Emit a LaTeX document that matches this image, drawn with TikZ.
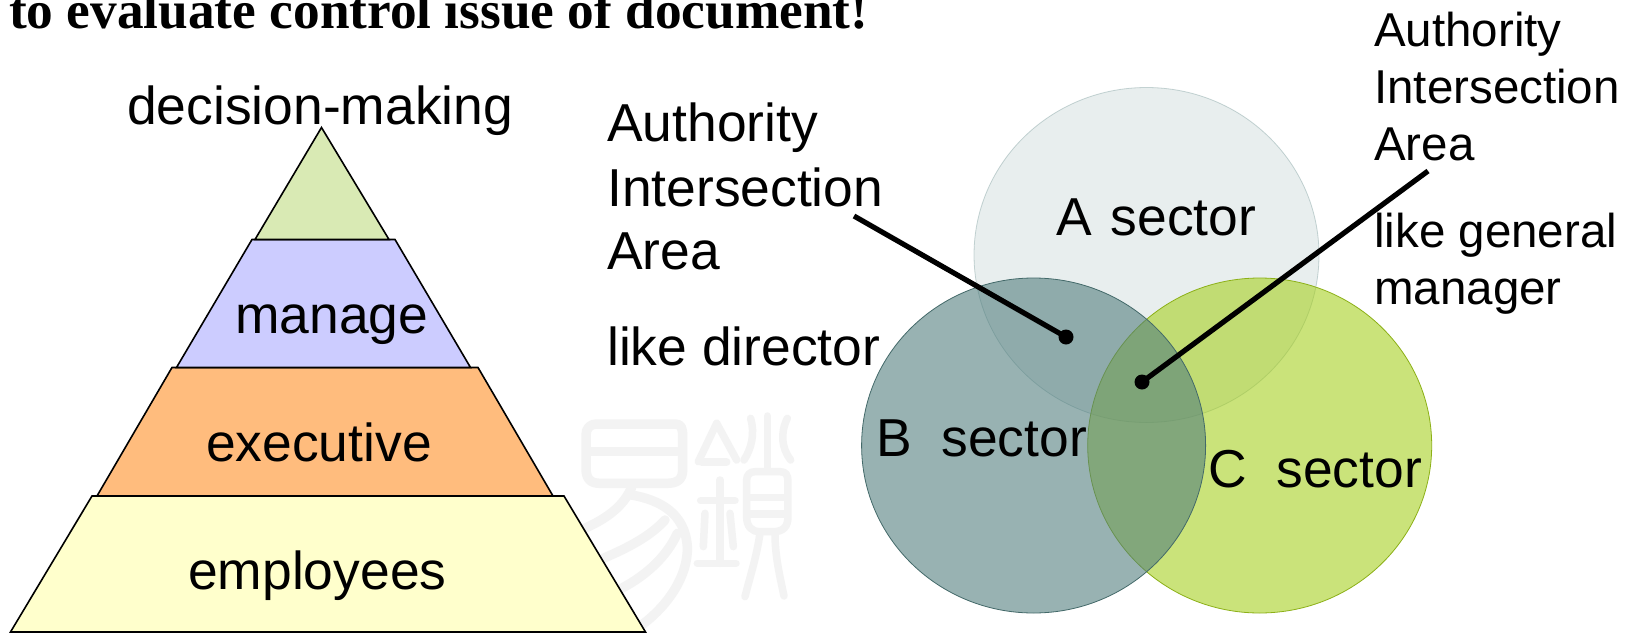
\documentclass[tikz,border=0pt]{standalone}
\usepackage{fontspec}
\setmainfont{Liberation Sans}
\newfontfamily\titlefont{Liberation Serif}
\definecolor{tierA}{HTML}{D9EAB4}
\definecolor{tierB}{HTML}{CCCCFF}
\definecolor{tierC}{HTML}{FFBC7D}
\definecolor{tierD}{HTML}{FFFFCC}
\definecolor{teal}{RGB}{79,124,124}
\definecolor{lime}{RGB}{165,207,27}
\definecolor{wm}{HTML}{F3F3F3}
\tikzset{
  label big/.style={inner sep=0pt,anchor=base west,font=\fontsize{53.4}{60}\selectfont},
  label small/.style={inner sep=0pt,anchor=base west,font=\fontsize{47.5}{54}\selectfont},
  tier/.style={draw=black,line width=1.6pt,line join=miter},
  pointer/.style={line width=5.2pt,draw=black},
  dot/.style={circle,fill=black,inner sep=0pt,minimum size=15pt},
  wmstroke/.style={draw=wm,line width=7.5pt,line cap=round,line join=round},
  wmthick/.style={wmstroke,line width=9.5pt}
}
\begin{document}
\begin{tikzpicture}[x=1pt,y=-1pt]
\useasboundingbox (0,0) rectangle (1635,632);
\clip (0,0) rectangle (1635,632);
\fill[white] (0,0) rectangle (1635,632);
% watermark
\begin{scope}[shift={(560,400)},x=0.3333pt,y=-0.3333pt]
  \draw[wmthick] (110,72) -- (345,72) .. controls (365,72) and (368,85) .. (368,110) -- (368,210) .. controls (368,240) and (350,250) .. (320,250) -- (120,250) .. controls (90,250) and (78,235) .. (78,205) -- (78,105) .. controls (78,85) and (90,72) .. (110,72);
  \draw[wmthick] (95,155) -- (350,155);
  \draw[wmthick] (215,262) .. controls (190,320) and (140,355) .. (75,385);
  \draw[wmthick] (215,285) .. controls (300,300) and (375,340) .. (382,440) .. controls (385,530) and (320,620) .. (245,675);
  \draw[wmthick] (315,360) .. controls (270,410) and (200,445) .. (130,475);
  \draw[wmthick] (352,400) .. controls (320,470) and (260,525) .. (185,565);
  \draw[wmstroke] (470,70) -- (415,185);
  \draw[wmstroke] (470,70) -- (530,180);
  \draw[wmstroke] (425,186) -- (500,186);
  \draw[wmstroke] (422,302) -- (525,302);
  \draw[wmstroke] (480,240) -- (480,490);
  \draw[wmstroke] (412,490) -- (528,490);
  \draw[wmstroke] (435,340) -- (430,440);
  \draw[wmstroke] (510,340) -- (520,440);
  \draw[wmstroke] (622,48) -- (622,210);
  \draw[wmstroke] (572,55) .. controls (585,100) and (575,145) .. (552,180);
  \draw[wmstroke] (682,55) .. controls (660,100) and (665,145) .. (692,180);
  \draw[wmstroke] (585,215) -- (660,215) .. controls (678,215) and (684,225) .. (684,245) -- (684,350) .. controls (684,380) and (670,395) .. (640,395) -- (600,395) .. controls (575,395) and (560,380) .. (560,350) -- (560,240) .. controls (560,225) and (570,215) .. (585,215);
  \draw[wmstroke] (565,292) -- (680,292);
  \draw[wmstroke] (565,342) -- (680,342);
  \draw[wmstroke] (600,400) .. controls (590,470) and (570,530) .. (555,590);
  \draw[wmstroke] (645,400) .. controls (645,470) and (660,530) .. (672,588);
\end{scope}
% title
\node[inner sep=0pt,anchor=base west,font=\titlefont\bfseries\fontsize{53.3}{60}\selectfont] (title) at (9,28) {to evaluate control issue of document!};
% pyramid
\path[tier,fill=tierD] (92,496) -- (564,496) -- (645.5,632) -- (10.5,632) -- cycle;
\path[tier,fill=tierC] (172,367.5) -- (478,367.5) -- (553,496) -- (97,496) -- cycle;
\path[tier,fill=tierB] (252,239.5) -- (395,239.5) -- (470.5,367.5) -- (176.5,367.5) -- cycle;
\path[tier,fill=tierA] (321.5,127.5) -- (389,239.5) -- (255,239.5) -- cycle;
\node[label big] (top) at (127,124) {decision-making};
\node[label big] (manage) at (235,333) {manage};
\node[label big] (executive) at (206,461) {executive};
\node[label big] (employees) at (188,589) {employees};
% circles
\fill[teal,fill opacity=0.13] (1146.5,255) ellipse [x radius=172.5,y radius=167.5];
\draw[teal,draw opacity=0.3,line width=0.8pt] (1146.5,255) ellipse [x radius=172.5,y radius=167.5];
\fill[lime,fill opacity=0.58] (1259.7,445.5) ellipse [x radius=172,y radius=167.5];
\draw[lime!85!black,line width=0.8pt] (1259.7,445.5) ellipse [x radius=172,y radius=167.5];
\fill[teal,fill opacity=0.58] (1033.6,445.5) ellipse [x radius=172,y radius=167.5];
\draw[teal!85!black,line width=0.8pt] (1033.6,445.5) ellipse [x radius=172,y radius=167.5];
\node[label big] (secA) at (1056,235) {A\hspace{19pt}sector};
\node[label big] (secB) at (876,456) {B\ \ sector};
\node[label big] (secC) at (1208,487) {C\ \ sector};
% left labels
\node[label big] (aL1) at (607,141) {Authority};
\node[label big] (aL2) at (607,206) {Intersection};
\node[label big] (aL3) at (607,269) {Area};
\node[label big] (aL4) at (607,365) {like director};
% right labels
\node[label small] (aR1) at (1374,46) {Authority};
\node[label small] (aR2) at (1374,103) {Intersection};
\node[label small] (aR3) at (1374,160) {Area};
\node[label small] (aR4) at (1374,247) {like general};
\node[label small] (aR5) at (1374,304) {manager};
% pointers
\node[dot] (dotL) at (1066,337) {};
\node[dot] (dotR) at (1142,382) {};
\coordinate (startL) at (854,216);
\coordinate (startR) at (1428,171);
\draw[pointer] (startL) -- (dotL.center);
\draw[pointer] (startR) -- (dotR.center);
\end{tikzpicture}
\end{document}
